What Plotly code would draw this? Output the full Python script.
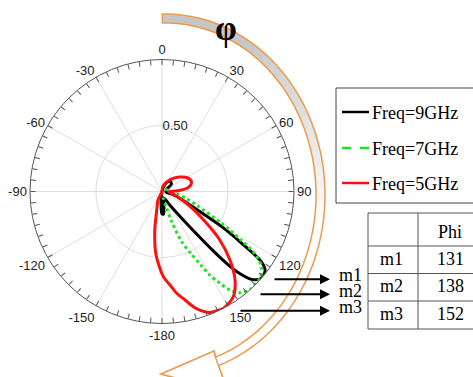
import math
import plotly.graph_objects as go

W, H = 473, 377

# Main-beam directions (deg) reported in the marker table
marker_names = ["m1", "m2", "m3"]
peak_phi = [131, 138, 152]

# Normalised far-field patterns, theta in degrees (clockwise from top)
theta_9ghz = [0, 25, 38, 52, 65, 95, 105, 112, 117, 120.5, 123, 125.2, 127.5, peak_phi[0],
              133, 134.5, 136.5, 138, 139.2, 140.5, 142.7, 150, 165, 172, 176, 180, 184, 190]
r_9ghz = [0, 0.07, 0.10, 0.09, 0.04, 0.03, 0.08, 0.16, 0.28, 0.525, 0.72, 0.92, 0.985, 1.0,
          0.98, 0.95, 0.86, 0.74, 0.60, 0.45, 0.29, 0.12, 0.05, 0.10, 0.17, 0.17, 0.10, 0]

theta_7ghz = [0, 60, 92, 99, 106, 112, 118, 121.5, 123.8, 126.8, 131, 134.5, peak_phi[1],
              142.4, 145.4, 148.3, 150.5, 152.2, 155, 158.6, 162.2, 165, 170, 180]
r_7ghz = [0, 0.03, 0.08, 0.12, 0.19, 0.29, 0.51, 0.70, 0.84, 0.94, 0.99, 0.995, 1.0,
          0.968, 0.907, 0.80, 0.72, 0.63, 0.52, 0.41, 0.24, 0.12, 0.05, 0]

theta_5ghz = [0, 10, 35, 50, 62, 72, 80, 85, 88, 92, 105, 117, 125, 129.8, 135.2, 140.5,
              145.9, peak_phi[2], 155, 158.4, 161.9, 164.8, 168, 171.8, 175.1, 179.1,
              185.5, 190.5, 195, 205, 230]
r_5ghz = [0, 0.04, 0.11, 0.17, 0.22, 0.235, 0.21, 0.16, 0.10, 0.05, 0.10, 0.224, 0.40, 0.565,
          0.73, 0.87, 0.963, 1.0, 0.995, 0.985, 0.949, 0.904, 0.84, 0.779, 0.711, 0.645,
          0.48, 0.30, 0.16, 0.07, 0]

series_names = ["Freq=9GHz", "Freq=7GHz", "Freq=5GHz"]
series_colors = ["#000000", "#22e022", "#ff1010"]
series_dash = ["solid", "dot", "solid"]

angle_labels = ["0", "30", "60", "90", "120", "150", "-180", "-150", "-120", "-90", "-60", "-30"]
minor_step = 5
radial_ticks = [0.5]
radial_tick_text = ["0.50"]


def fx(x):
    return x / W


def fy(y):
    return 1 - y / H


fig = go.Figure()

# 30-degree spokes
spoke_t, spoke_r = [], []
for k in range(12):
    spoke_t += [k * 30, k * 30, None]
    spoke_r += [0, 1, None]
fig.add_trace(go.Scatterpolar(theta=spoke_t, r=spoke_r, mode="lines",
                              line=dict(color="#dddddd", width=1), hoverinfo="skip"))

for th, rr, name, col, dash in zip([theta_9ghz, theta_7ghz, theta_5ghz],
                                   [r_9ghz, r_7ghz, r_5ghz],
                                   series_names, series_colors, series_dash):
    fig.add_trace(go.Scatterpolar(theta=th, r=rr, mode="lines", name=name, cliponaxis=False,
                                  line=dict(color=col, width=3, dash=dash, shape="spline",
                                            smoothing=0.8)))

ang_vals = list(range(0, 360, minor_step))
ang_text = [angle_labels[v // 30] if v % 30 == 0 else "" for v in ang_vals]

fig.update_layout(
    width=W, height=H, margin=dict(l=0, r=0, t=0, b=0),
    paper_bgcolor="white", showlegend=False,
    polar=dict(
        domain=dict(x=[fx(30), fx(294)], y=[fy(323.5), fy(59.5)]),
        bgcolor="white",
        angularaxis=dict(rotation=90, direction="clockwise", tickmode="array",
                         tickvals=ang_vals, ticktext=ang_text, ticks="inside", ticklen=5,
                         tickcolor="#555555", linecolor="#555555", linewidth=1,
                         showgrid=False,
                         tickfont=dict(family="Liberation Sans, Arial", size=13, color="#222222")),
        radialaxis=dict(range=[0, 1], tickmode="array", tickvals=radial_ticks,
                        ticktext=radial_tick_text, showline=False, ticks="",
                        gridcolor="#dddddd", angle=90, tickangle=90,
                        tickfont=dict(family="Liberation Sans, Arial", size=13, color="#222222")),
    ),
)

shapes = []
annotations = []


def note(x, y, text, font, xanchor="center", yanchor="middle"):
    annotations.append(dict(x=fx(x), y=fy(y), xref="paper", yref="paper", showarrow=False,
                            xanchor=xanchor, yanchor=yanchor, text=text, font=font))


# Curved orange arrow around the polar plot (phi direction)
cx, cy = 165, 195
rx_o, ry_o, rx_i, ry_i = 160, 181, 151, 172
t0, t1 = -1.0, 160.5


def ell(rx, ry, t):
    a = math.radians(t)
    return cx + rx * math.sin(a), cy - ry * math.cos(a)


def to_path(pts, close=True):
    s = "M " + " L ".join(f"{fx(x):.5f},{fy(y):.5f}" for x, y in pts)
    return s + (" Z" if close else "")


nseg = 40
for i in range(nseg):
    ta = t0 + (t1 - t0) * i / nseg
    tb = min(t0 + (t1 - t0) * (i + 1.15) / nseg, t1)
    tm = (ta + tb) / 2
    f = min(1.0, max(0.0, (tm - 30) / 70))
    g = int(198 + (255 - 198) * f)
    pts = [ell(rx_o, ry_o, ta + (tb - ta) * j / 4) for j in range(5)]
    pts += [ell(rx_i, ry_i, tb - (tb - ta) * j / 4) for j in range(5)]
    shapes.append(dict(type="path", xref="paper", yref="paper", path=to_path(pts),
                       fillcolor=f"rgb({g},{g},{g})", line=dict(width=0)))

outer = [ell(rx_o, ry_o, t0 + (t1 - t0) * j / 120) for j in range(121)]
inner = [ell(rx_i, ry_i, t1 - (t1 - t0) * j / 120) for j in range(121)]
head = [(228, 392), (161, 374), (214, 351)]
shapes.append(dict(type="path", xref="paper", yref="paper",
                   path=to_path(outer + head + inner),
                   fillcolor="rgba(0,0,0,0)", line=dict(color="#ee9a4c", width=1.5)))
shapes.append(dict(type="path", xref="paper", yref="paper",
                   path=to_path([outer[-1]] + head + [inner[0]]),
                   fillcolor="white", line=dict(color="#ee9a4c", width=1.5)))

note(226, 28, "<b>φ</b>", dict(family="Liberation Serif", size=35, color="black"))

serif = dict(family="Liberation Serif, Times New Roman", size=18, color="black")

# Legend box
shapes.append(dict(type="rect", xref="paper", yref="paper", x0=fx(336), x1=fx(485),
                   y0=fy(88), y1=fy(203), line=dict(color="#444444", width=1),
                   fillcolor="white"))
for i, (name, col, dash) in enumerate(zip(series_names, series_colors, series_dash)):
    yy = [112, 148, 183][i]
    shapes.append(dict(type="line", xref="paper", yref="paper", x0=fx(342), x1=fx(369),
                       y0=fy(yy), y1=fy(yy),
                       line=dict(color=col, width=2.5, dash="dash" if dash == "dot" else "solid")))
    note(370, yy + 1, name, serif, xanchor="left")

# Marker table
tl, tr, tdiv = 368, 485, 418
rows_y = [213, 246, 273.5, 301, 329]
shapes.append(dict(type="rect", xref="paper", yref="paper", x0=fx(tl), x1=fx(tr),
                   y0=fy(rows_y[-1]), y1=fy(rows_y[0]), line=dict(color="#555555", width=1)))
shapes.append(dict(type="line", xref="paper", yref="paper", x0=fx(tdiv), x1=fx(tdiv),
                   y0=fy(rows_y[-1]), y1=fy(rows_y[0]), line=dict(color="#555555", width=1)))
for yv in rows_y[1:-1]:
    shapes.append(dict(type="line", xref="paper", yref="paper", x0=fx(tl), x1=fx(tr),
                       y0=fy(yv), y1=fy(yv), line=dict(color="#555555", width=1)))
note(450, 232, "Phi", serif)
for i, (m, p) in enumerate(zip(marker_names, peak_phi)):
    yc = (rows_y[i + 1] + rows_y[i + 2]) / 2 - 1
    note(391, yc, m, serif)
    note(450, yc, str(p), serif)

# Marker arrows and labels
arrow_y = [279.3, 294.3, 310.7]
arrow_x0 = [273, 259, 239]
label_y = [275, 291, 307]
for m, ya, xa, yl in zip(marker_names, arrow_y, arrow_x0, label_y):
    annotations.append(dict(x=fx(330), y=fy(ya), xref="paper", yref="paper", ax=xa - 330, ay=0,
                            text="", showarrow=True, arrowhead=2, arrowsize=1, arrowwidth=2,
                            arrowcolor="black", standoff=0))
    note(337, yl, m, serif, xanchor="left")

fig.update_layout(shapes=shapes, annotations=annotations)
fig.write_html("out.html")
